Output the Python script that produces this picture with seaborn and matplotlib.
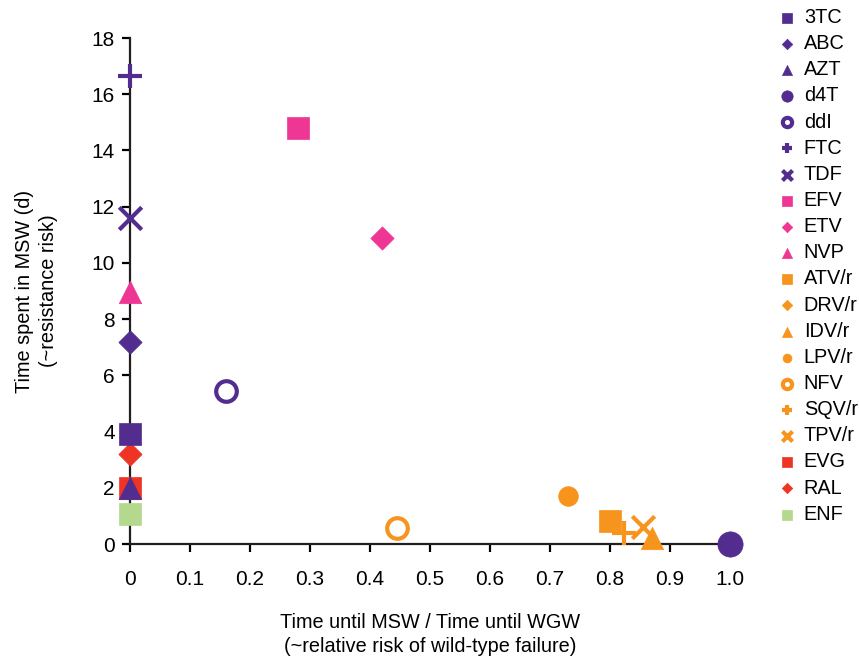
import numpy as np
import pandas as pd
import seaborn as sns
import matplotlib.pyplot as plt

# Data
drugs = ['3TC', 'ABC', 'AZT', 'd4T', 'ddI', 'FTC', 'TDF', 'EFV', 'ETV', 'NVP',
         'ATV/r', 'DRV/r', 'IDV/r', 'LPV/r', 'NFV', 'SQV/r', 'TPV/r', 'EVG', 'RAL', 'ENF']
rel_risk = [0.0, 0.0, 0.0, 1.0, 0.16, 0.0, 0.0, 0.28, 0.42, 0.0,
            0.80, 1.0, 0.87, 0.73, 0.445, 0.823, 0.855, 0.0, 0.0, 0.0]
msw_days = [3.9, 7.2, 2.0, 0.0, 5.45, 16.65, 11.6, 14.8, 10.9, 8.95,
            0.82, 0.05, 0.2, 1.7, 0.57, 0.4, 0.6, 2.0, 3.2, 1.05]
drug_class = ['NRTI'] * 7 + ['NNRTI'] * 3 + ['PI'] * 7 + ['INI'] * 2 + ['FI']

class_colors = {'NRTI': '#522D8F', 'NNRTI': '#EE3794', 'PI': '#F7941D',
                'INI': '#EE3424', 'FI': '#B3D88E'}
drug_markers = {'3TC': 's', 'ABC': 'D', 'AZT': '^', 'd4T': 'o', 'ddI': 'o',
                'FTC': '+', 'TDF': 'x', 'EFV': 's', 'ETV': 'D', 'NVP': '^',
                'ATV/r': 's', 'DRV/r': 'D', 'IDV/r': '^', 'LPV/r': 'o', 'NFV': 'o',
                'SQV/r': '+', 'TPV/r': 'x', 'EVG': 's', 'RAL': 'D', 'ENF': 's'}
open_markers = ['ddI', 'NFV']
marker_sizes = {'s': 250, 'D': 140, '^': 260, 'o': 200, '+': 300, 'x': 260}
big_markers = {'d4T': 330}

df = pd.DataFrame({'drug': drugs, 'x': rel_risk, 'y': msw_days, 'cls': drug_class})

plt.rcParams['font.family'] = ['Liberation Sans', 'DejaVu Sans']
fig = plt.figure(figsize=(8.59, 6.59), dpi=100)
ax = fig.add_axes([0.1513, 0.1745, 0.6985, 0.7678])

handles = {}
# draw in reverse order, like the original (first series on top)
for i in range(len(df) - 1, -1, -1):
    row = df.iloc[[i]]
    name = row['drug'].iloc[0]
    c = class_colors[row['cls'].iloc[0]]
    m = drug_markers[name]
    size = big_markers.get(name, marker_sizes[m])
    kw = dict(marker=m, s=size, zorder=3 + len(df) - i, clip_on=False)
    if name in open_markers:
        kw.update(facecolor='white', edgecolor=c, linewidth=3, s=220)
    elif m in ['+', 'x']:
        kw.update(color=c, linewidth=3)
    else:
        kw.update(color=c, edgecolor=c, linewidth=0.5)
    sns.scatterplot(data=row, x='x', y='y', ax=ax, label=name, legend=False, **kw)
    handles[name] = ax.collections[-1]

ax.set_xlim(0, 1.0)
ax.set_ylim(0, 18)
ax.set_xticks(np.arange(0, 1.01, 0.1))
ax.set_xticklabels(['0'] + ['%.1f' % v for v in np.arange(0.1, 1.01, 0.1)])
ax.set_yticks(np.arange(0, 19, 2))
for side in ['top', 'right']:
    ax.spines[side].set_visible(False)
for side in ['left', 'bottom']:
    ax.spines[side].set_linewidth(1.6)
    ax.spines[side].set_color('#231F20')
ax.tick_params(axis='x', direction='out', length=6, width=1.6, pad=13, labelsize=15)
ax.tick_params(axis='y', direction='out', length=6, width=1.6, pad=5, labelsize=15)

ax.set_xlabel('Time until MSW / Time until WGW\n(~relative risk of wild-type failure)',
              fontsize=14.3, labelpad=17, linespacing=1.3)
ax.set_ylabel('Time spent in MSW (d)\n(~resistance risk)', fontsize=14.3,
              labelpad=24, linespacing=1.3)

ax.legend([handles[d] for d in drugs], drugs, loc='upper left',
          bbox_to_anchor=(0.893, 1.0), bbox_transform=fig.transFigure,
          frameon=False, fontsize=14.3, markerscale=0.45, labelspacing=0.36,
          handletextpad=0.25, handlelength=1.2, borderaxespad=0.0)

fig.savefig('out.png', dpi=100)
